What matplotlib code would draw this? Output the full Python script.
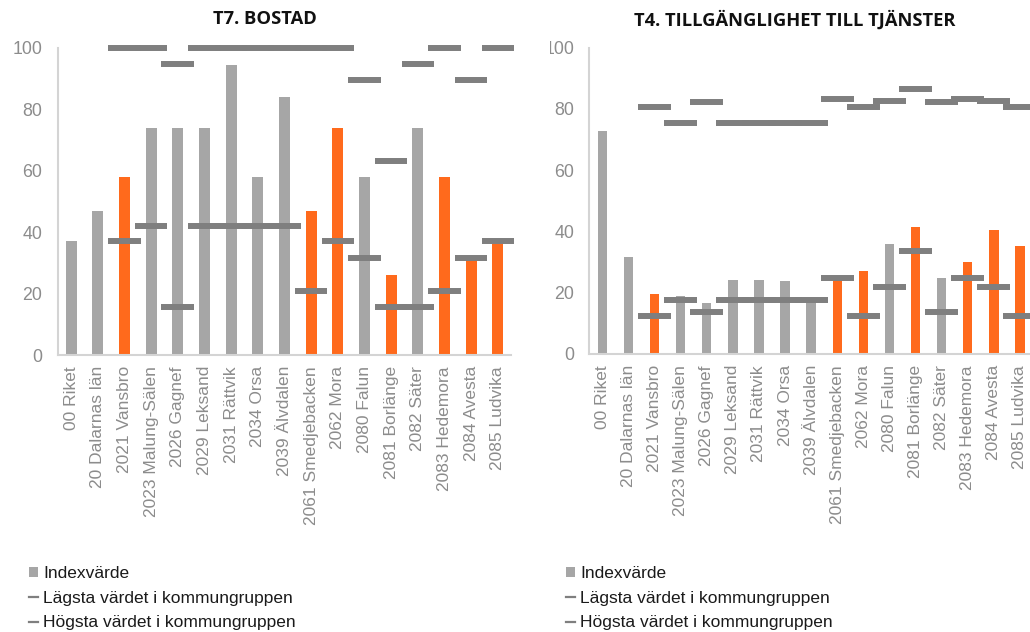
import matplotlib
matplotlib.use("Agg")
import matplotlib.pyplot as plt
from matplotlib.patches import Patch
from matplotlib.lines import Line2D
from matplotlib.transforms import Bbox, TransformedBbox

plt.rcParams['font.family'] = ['Liberation Sans', 'DejaVu Sans']

categories = ["00 Riket", "20 Dalarnas län", "2021 Vansbro", "2023 Malung-Sälen",
              "2026 Gagnef", "2029 Leksand", "2031 Rättvik", "2034 Orsa",
              "2039 Älvdalen", "2061 Smedjebacken", "2062 Mora", "2080 Falun",
              "2081 Borlänge", "2082 Säter", "2083 Hedemora", "2084 Avesta",
              "2085 Ludvika"]
highlighted = ["2021 Vansbro", "2061 Smedjebacken", "2062 Mora", "2081 Borlänge",
               "2083 Hedemora", "2084 Avesta", "2085 Ludvika"]

# T7. BOSTAD
t7_index = [37, 47, 58, 74, 74, 74, 94.5, 58, 84, 47, 74, 58, 26, 74, 58, 31, 36]
t7_low = [None, None, 37, 42, 15.5, 42, 42, 42, 42, 20.7, 37, 31.5, 15.5, 15.5, 20.7, 31.5, 37]
t7_high = [None, None, 100, 100, 94.6, 100, 100, 100, 100, 100, 100, 89.5, 63, 94.6, 100, 89.5, 100]

# T4. TILLGÄNGLIGHET TILL TJÄNSTER
t4_index = [72.8, 31.8, 19.6, 19, 16.8, 24.2, 24.2, 23.8, 17, 24, 27.2, 35.8, 41.5, 24.9, 30, 40.5, 35.4]
t4_low = [None, None, 12.5, 17.6, 13.6, 17.6, 17.6, 17.6, 17.6, 24.7, 12.5, 22, 33.7, 13.6, 24.7, 22, 12.5]
t4_high = [None, None, 80.7, 75.3, 82.3, 75.3, 75.3, 75.3, 75.3, 83.2, 80.7, 82.6, 86.5, 82.3, 83.2, 82.6, 80.7]

yticks = [0, 20, 40, 60, 80, 100]

GRAY = "#A6A6A6"
ORANGE = "#FF6A1C"
DASH = "#7F7F7F"
TICK = "#8C8C8C"
SPINE = "#D4D4D4"

fig = plt.figure(figsize=(10.30, 6.32), dpi=100)


def draw(ax, idx, low, high, barw, dashw):
    x = list(range(len(categories)))
    colors = [ORANGE if c in highlighted else GRAY for c in categories]
    ax.bar(x, idx, width=barw, color=colors, zorder=2)
    for series in (low, high):
        xs = [i for i, v in enumerate(series) if v is not None]
        ys = [series[i] for i in xs]
        ax.hlines(ys, [i - dashw / 2 for i in xs], [i + dashw / 2 for i in xs],
                  colors=DASH, linewidth=4.3, zorder=3, clip_on=False)
    ax.set_xlim(-0.5, len(categories) - 0.5)
    ax.set_ylim(0, 100)
    ax.set_yticks(yticks)
    ax.set_xticks(x)
    ax.set_xticklabels(categories, rotation=90, fontsize=12.5, color=TICK)
    ax.tick_params(axis='y', length=0, pad=11, labelsize=12.8, labelcolor=TICK)
    ax.tick_params(axis='x', length=0, pad=8)
    for s in ("top", "right"):
        ax.spines[s].set_visible(False)
    for s in ("left", "bottom"):
        ax.spines[s].set_color(SPINE)
        ax.spines[s].set_linewidth(1.5)


ax1 = fig.add_axes([57.7 / 1030, 1 - 355 / 632, 453.5 / 1030, 307.3 / 632])
draw(ax1, t7_index, t7_low, t7_high, 0.41, 1.22)

ax2 = fig.add_axes([589.3 / 1030, 1 - 354 / 632, 443.7 / 1030, 306.3 / 632])
draw(ax2, t4_index, t4_low, t4_high, 0.36, 1.27)

clipbox = TransformedBbox(Bbox([[549.5 / 1030, 0], [1, 1]]), fig.transFigure)
for lab in ax2.get_yticklabels():
    lab.set_clip_on(True)
    lab.set_clip_box(clipbox)

fig.text(265 / 1030, 1 - 19 / 632, "T7. BOSTAD", ha="center", va="center",
         fontsize=13.2, fontweight="bold", family="Open Sans", color="#111111")
fig.text(795 / 1030, 1 - 20 / 632, "T4. TILLGÄNGLIGHET TILL TJÄNSTER", ha="center", va="center",
         fontsize=13.2, fontweight="bold", family="Open Sans", color="#111111")

handles = [Patch(facecolor=GRAY, edgecolor="none"),
           Line2D([0], [0], color=DASH, lw=1.6),
           Line2D([0], [0], color=DASH, lw=1.6)]
labels = ["Indexvärde", "Lägsta värdet i kommungruppen", "Högsta värdet i kommungruppen"]
for x0 in (29 / 1030, 566 / 1030):
    fig.legend(handles, labels, loc="upper left", bbox_to_anchor=(x0, 1 - 566 / 632),
               bbox_transform=fig.transFigure, frameon=False, fontsize=12.5,
               handlelength=0.5, handleheight=0.5, handletextpad=0.3,
               labelspacing=0.55, borderpad=0, borderaxespad=0, labelcolor="#1a1a1a")

fig.savefig("out.png", dpi=100)
